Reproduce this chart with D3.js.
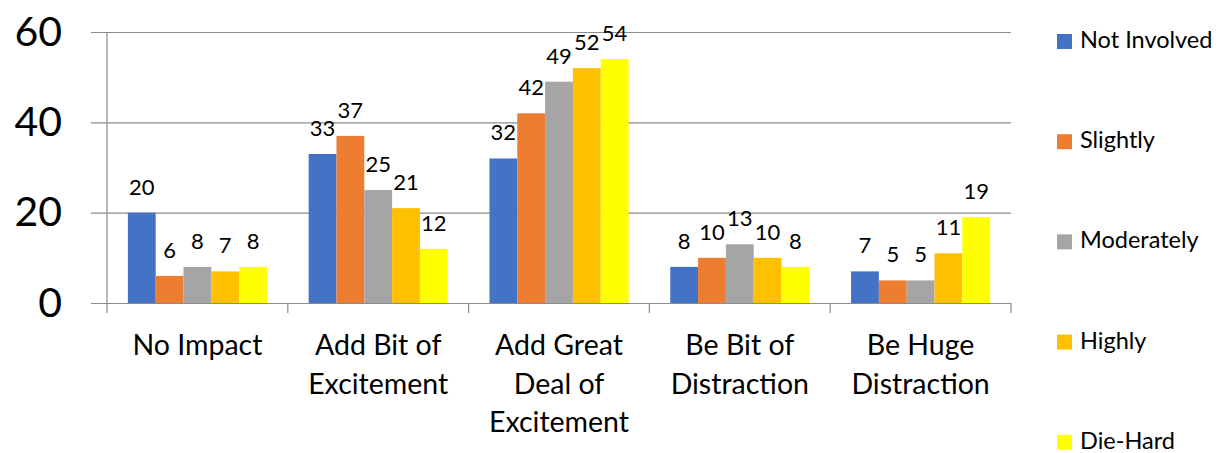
<!DOCTYPE html>
<html lang="en">
  <head>
    <title>Impact chart</title>
    <script src="https://d3js.org/d3.v7.min.js"></script>
    <style>
      body { margin: 0; background: #fff; }
      text { font-family: Lato, 'Liberation Sans', sans-serif; fill: #000; }
    </style>
  </head>
  <body>
    <div id='chart'></div>
    <script type='text/javascript'>
      // data
      let categories = ['No Impact', 'Add Bit of\nExcitement', 'Add Great\nDeal of\nExcitement',
                        'Be Bit of\nDistraction', 'Be Huge\nDistraction']
      let seriesNames = ['Not Involved', 'Slightly', 'Moderately', 'Highly', 'Die-Hard']
      let notInvolved = [20, 33, 32, 8, 7]
      let slightly = [6, 37, 42, 10, 5]
      let moderately = [8, 25, 49, 13, 5]
      let highly = [7, 21, 52, 10, 11]
      let dieHard = [8, 12, 54, 8, 19]
      let yTicks = [0, 20, 40, 60]
      let colors = ['#4472C4', '#ED7D31', '#A5A5A5', '#FFC000', '#FFFF00']

      let seriesValues = [notInvolved, slightly, moderately, highly, dieHard]

      let width = 1219, height = 453
      let plot = {left: 107, right: 1011, top: 32, bottom: 303}

      let svg = d3.select('#chart').append('svg')
        .attr('width', width)
        .attr('height', height)

      let y = d3.scaleLinear().domain([0, 60]).range([plot.bottom, plot.top])
      let x0 = d3.scaleBand().domain(d3.range(categories.length))
        .range([plot.left, plot.right]).padding(0)
      let x1 = d3.scaleBand().domain(d3.range(seriesNames.length))
        .range([0, x0.bandwidth()]).paddingInner(0).paddingOuter(0.75)

      // gridlines + y labels
      let yAxis = svg.append('g')
        .attr('transform', 'translate(91,0)')
        .call(d3.axisLeft(y).tickValues(yTicks).tickSize(-(plot.right - 91)).tickPadding(29))
      yAxis.select('.domain').remove()
      yAxis.selectAll('line').attr('stroke', '#8c8c8c').attr('stroke-width', 1.2)
      yAxis.selectAll('text')
        .attr('font-size', 41)
        .style('font-family', 'Lato, sans-serif')
        .attr('fill', '#000')

      // vertical axis line
      svg.append('line')
        .attr('x1', plot.left).attr('x2', plot.left)
        .attr('y1', plot.top).attr('y2', plot.bottom + 10)
        .attr('stroke', '#8c8c8c').attr('stroke-width', 1.2)

      // category boundary ticks
      let bounds = d3.range(categories.length + 1).map(i => i < categories.length ? x0(i) : plot.right)
      svg.selectAll('.ctick').data(bounds.slice(1)).enter()
        .append('line')
        .attr('x1', d => d).attr('x2', d => d)
        .attr('y1', plot.bottom).attr('y2', plot.bottom + 10)
        .attr('stroke', '#8c8c8c').attr('stroke-width', 1.2)

      // bars
      let groups = svg.selectAll('.grp').data(categories).enter()
        .append('g')
        .attr('transform', (d, i) => 'translate(' + x0(i) + ',0)')

      groups.each(function(c, ci) {
        let g = d3.select(this)
        let vals = seriesValues.map(s => s[ci])
        g.selectAll('rect').data(vals).enter()
          .append('rect')
          .attr('x', (d, si) => x1(si))
          .attr('width', x1.bandwidth())
          .attr('y', d => y(d))
          .attr('height', d => y(0) - y(d))
          .attr('fill', (d, si) => colors[si])
        g.selectAll('.lbl').data(vals).enter()
          .append('text')
          .attr('x', (d, si) => x1(si) + x1.bandwidth() / 2)
          .attr('y', d => y(d) - 18)
          .attr('text-anchor', 'middle')
          .attr('font-size', 22)
          .text(d => d)
      })

      // category labels
      svg.selectAll('.cat').data(categories).enter()
        .append('text')
        .attr('text-anchor', 'middle')
        .attr('font-size', 28.5)
        .attr('x', (d, i) => x0(i) + x0.bandwidth() / 2)
        .attr('y', 355)
        .each(function(d) {
          d3.select(this).selectAll('tspan').data(d.split('\n')).enter()
            .append('tspan')
            .attr('x', d3.select(this).attr('x'))
            .attr('dy', (l, k) => k === 0 ? 0 : 38.5)
            .text(l => l)
        })

      // legend
      let legend = svg.selectAll('.leg').data(seriesNames).enter()
        .append('g')
        .attr('transform', (d, i) => 'translate(1057,' + (34 + i * 100.2) + ')')
      legend.append('rect')
        .attr('width', 15).attr('height', 15)
        .attr('fill', (d, i) => colors[i])
      legend.append('text')
        .attr('x', 23).attr('y', 14)
        .attr('font-size', 23.5)
        .text(d => d)
    </script>
  </body>
</html>
